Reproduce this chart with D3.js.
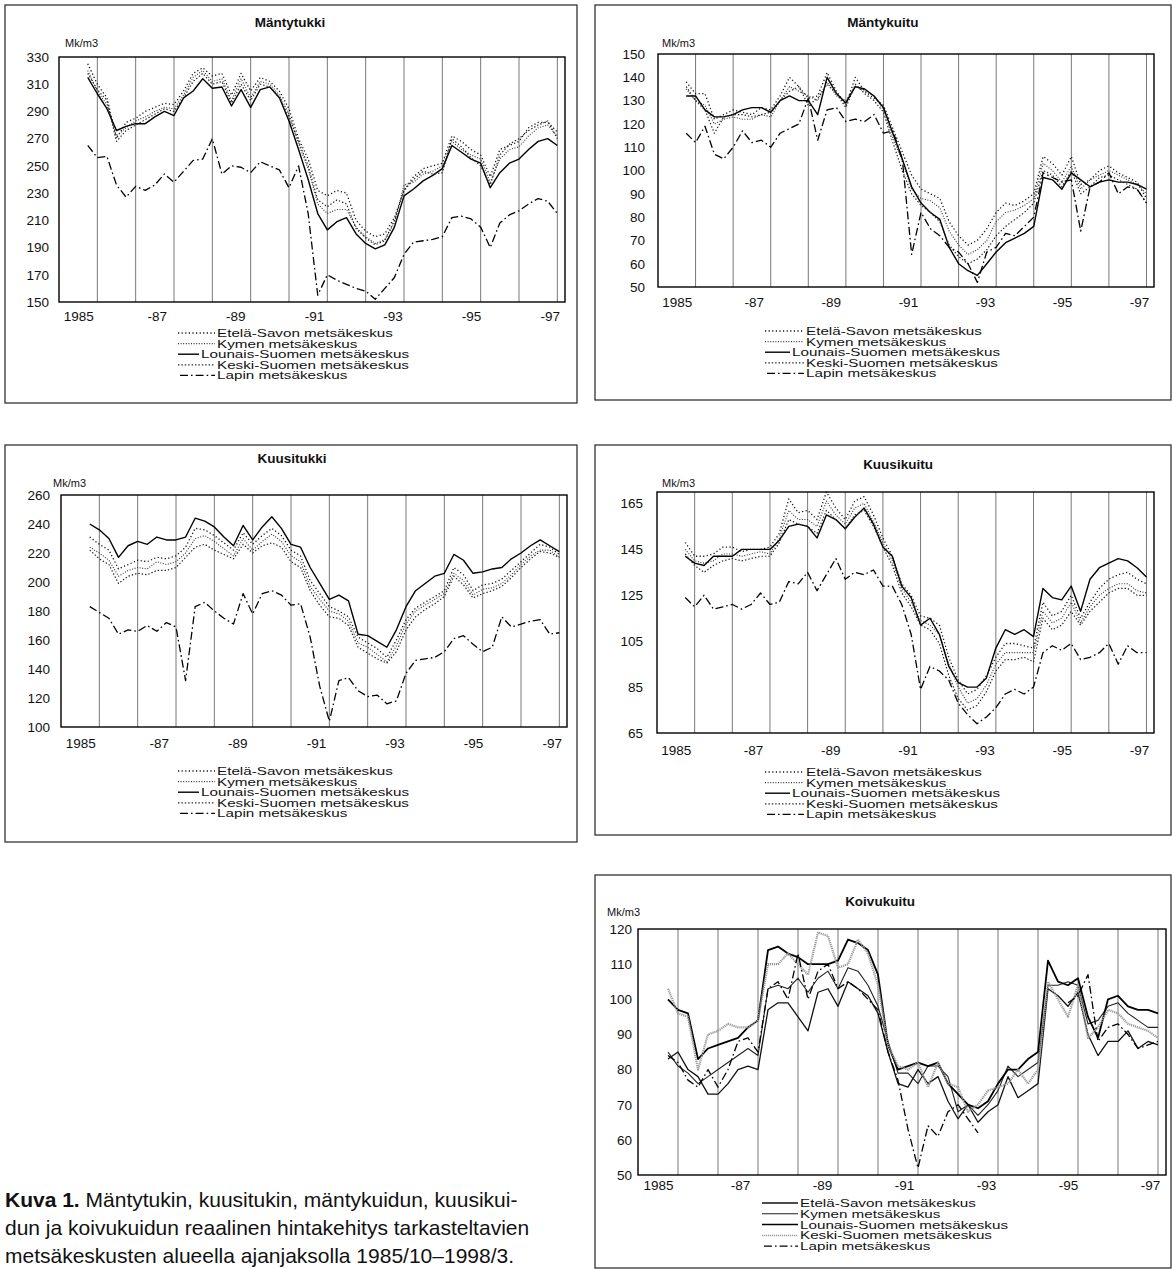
<!DOCTYPE html>
<html><head><meta charset="utf-8">
<script src="https://cdn.jsdelivr.net/npm/d3@7"></script>
<style>
body{margin:0;background:#fff}
svg{display:block}
text{font-family:"Liberation Sans",Arial,sans-serif;fill:#111}
</style>
</head><body>
<svg id="c" width="1172" height="1269"></svg>
<script>
// ---- time axis (quarterly readings, 1985/10 .. 1998/1) ----
const quarters = d3.range(50).map(i => 1985.75 + i * 0.25);
const regions = ["Etelä-Savon metsäkeskus","Kymen metsäkeskus","Lounais-Suomen metsäkeskus","Keski-Suomen metsäkeskus","Lapin metsäkeskus"];
const xTickYears = [1985,1987,1989,1991,1993,1995,1997];
const xTickLabels = ["1985","-87","-89","-91","-93","-95","-97"];
const gridYears = d3.range(1986, 1999);

// ---- Mäntytukki ----
const mtEtela  = [325,310,300,270,282,285,290,293,296,295,305,318,322,316,318,302,318,305,315,312,305,292,270,255,232,228,232,230,210,202,198,200,212,232,242,248,250,252,272,268,262,258,242,262,265,268,278,282,282,275];
const mtKymen  = [320,305,295,272,278,283,286,290,293,292,302,315,320,312,314,298,314,300,312,310,302,288,266,248,222,215,218,218,205,198,193,196,208,236,238,244,246,250,268,262,258,255,238,255,262,264,272,278,280,272];
const mtLounais= [315,303,292,276,279,281,281,286,290,287,300,305,314,307,308,294,306,293,306,308,300,283,262,240,215,203,209,212,200,193,189,192,205,228,233,239,243,248,265,260,255,252,234,245,252,255,262,268,270,265];
const mtKeski  = [318,306,298,268,276,280,284,288,292,290,300,312,318,310,312,296,310,298,310,308,300,286,268,250,225,220,225,222,204,197,192,195,210,232,240,246,244,245,270,264,256,250,236,258,266,270,276,280,283,270];
const mtLapin  = [265,256,257,236,227,235,232,236,244,238,246,254,255,270,244,250,249,245,253,250,247,234,250,215,155,170,166,163,160,158,152,160,168,185,194,195,196,198,212,213,211,205,190,208,214,217,222,226,224,215];

// ---- Mäntykuitu ----
const mkEtela  = [138,133,133,122,124,126,125,124,127,126,132,140,136,131,132,142,134,128,140,134,131,128,118,108,98,92,90,88,78,72,68,70,75,82,86,85,87,90,106,103,98,106,94,96,100,102,99,97,95,88];
const mkKymen  = [135,130,128,120,122,123,122,122,124,123,130,136,134,132,130,138,132,130,136,134,132,126,114,104,92,88,87,84,74,68,64,66,70,78,82,83,85,88,103,100,95,102,92,96,98,100,98,96,94,90];
const mkLounais= [132,132,126,123,123,124,126,127,127,125,130,132,130,130,124,140,133,129,136,135,132,127,116,105,93,86,82,79,67,60,57,55,60,65,69,71,73,76,97,96,92,99,96,93,95,96,95,95,94,92];
const mkKeski  = [136,130,126,116,123,124,124,123,124,125,130,134,136,128,131,137,133,127,137,133,130,125,112,100,90,85,82,78,68,63,60,62,66,72,76,79,82,86,100,98,93,100,90,93,97,98,96,94,92,86];
const mkLapin  = [116,112,119,107,105,110,117,112,113,110,116,118,120,131,113,126,127,121,122,121,124,116,117,105,64,82,75,72,67,65,60,52,65,67,73,72,76,80,99,97,95,96,74,93,95,99,90,93,92,86];

// ---- Kuusitukki ----
const ktEtela  = [231,226,222,209,212,215,214,217,216,218,224,237,236,232,227,222,234,226,232,237,232,222,218,201,192,183,180,176,162,158,154,148,160,174,182,186,190,194,210,205,194,198,199,202,208,214,220,226,224,219];
const ktKymen  = [224,220,215,204,208,210,209,214,212,214,220,230,232,228,223,218,230,222,228,233,228,218,214,197,188,180,178,173,158,155,150,145,156,171,180,184,188,192,206,201,191,195,196,199,205,212,218,222,222,217];
const ktLounais= [240,236,230,217,225,228,226,231,229,229,231,244,242,238,231,225,239,229,238,245,237,226,224,210,199,188,191,187,164,163,159,155,167,183,194,199,204,206,219,215,206,207,209,210,216,220,225,229,225,221];
const ktKeski  = [222,216,212,199,204,206,205,208,208,210,217,224,226,222,219,216,226,220,225,227,224,214,210,194,184,176,175,170,155,151,147,144,152,167,176,181,185,190,204,198,189,192,194,197,203,210,216,221,220,217];
const ktLapin  = [183,179,175,164,167,166,170,166,172,169,132,183,186,180,175,171,192,178,192,194,191,184,185,162,128,104,132,134,125,121,122,116,118,137,146,147,148,152,161,163,157,152,155,176,169,171,173,174,164,165];

// ---- Kuusikuitu ----
const kkEtela  = [148,142,142,143,146,146,144,145,145,146,152,167,161,162,158,170,163,158,166,168,160,150,142,130,125,116,115,112,98,88,82,84,90,98,104,104,103,102,122,116,118,125,115,122,128,132,134,135,132,130];
const kkKymen  = [145,140,139,140,143,143,142,143,144,143,150,162,158,158,155,166,160,156,163,165,157,148,140,128,122,114,112,108,95,85,78,80,86,95,100,100,100,100,118,113,115,122,113,120,125,128,130,130,127,126];
const kkLounais= [142,139,138,142,142,142,145,145,145,145,149,155,156,155,150,160,158,154,159,163,156,146,142,129,124,112,115,108,94,87,85,85,89,102,110,108,110,107,128,124,123,129,118,132,137,139,141,140,137,133];
const kkKeski  = [143,138,135,138,140,141,140,141,142,142,148,158,156,155,152,162,158,154,160,162,155,146,138,126,120,112,110,104,90,80,75,77,83,92,97,97,98,96,115,110,112,118,112,118,122,126,128,128,125,125];
const kkLapin  = [124,120,125,119,120,121,119,121,126,121,122,131,130,135,127,134,141,132,135,134,136,129,129,121,108,84,94,92,88,78,73,69,72,76,82,84,82,85,100,103,101,104,97,98,100,104,95,103,100,100];

// ---- Koivukuitu ----
const kvEtela  = [83,85,80,78,73,73,76,80,81,80,97,99,99,95,91,102,103,98,105,103,101,96,85,76,75,80,76,78,71,66,70,65,68,70,78,72,74,76,103,101,98,102,90,84,88,88,91,86,88,87];
const kvKymen  = [85,81,79,76,78,80,82,84,86,84,103,104,103,106,102,106,108,103,109,108,104,98,88,79,79,76,81,81,78,68,70,67,70,74,81,78,80,82,104,104,105,104,93,94,98,99,96,94,92,92];
const kvLounais= [100,97,96,83,86,87,88,89,92,94,114,115,113,112,110,110,110,111,117,116,114,107,87,80,81,82,81,82,76,73,70,69,71,76,80,80,83,85,111,105,104,106,95,89,100,101,98,97,97,96];
const kvKeski  = [103,96,95,80,90,91,93,92,92,94,110,110,113,110,107,119,118,109,110,117,113,104,87,81,80,82,75,82,76,75,68,70,74,75,76,80,76,80,105,100,95,104,89,92,97,96,93,92,91,89];
const kvLapin  = [84,82,77,75,80,75,80,88,89,85,103,105,100,113,100,108,110,103,105,103,100,97,85,77,63,52,64,61,68,70,66,62,null,null,null,null,null,null,null,null,99,101,107,88,92,93,90,86,87,88];

const captionLines = [
  ["Kuva 1.", " Mäntytukin, kuusitukin, mäntykuidun, kuusikui-"],
  ["", "dun ja koivukuidun reaalinen hintakehitys tarkasteltavien"],
  ["", "metsäkeskusten alueella ajanjaksolla 1985/10–1998/3."]
];

// ---- styles ----
const stdStyles = [
  {stroke:"#111", width:1.3, dash:"1.2,2.4"},
  {stroke:"#333", width:1.1, dash:"1,1.6"},
  {stroke:"#000", width:1.4, dash:null},
  {stroke:"#222", width:1.2, dash:"1.4,2"},
  {stroke:"#000", width:1.3, dash:"8,3,1.6,3"}
];
const birchStyles = [
  {stroke:"#111", width:1.3, dash:null},
  {stroke:"#222", width:1.1, dash:null},
  {stroke:"#000", width:1.8, dash:null},
  {stroke:"#999", width:2.2, dash:"1.2,0.8"},
  {stroke:"#000", width:1.3, dash:"8,3,1.6,3"}
];

const panels = [
  {title:"Mäntytukki", frame:[5,5,577,403], plot:[59,57,565,302], y:[150,330], yTicks:d3.range(150,331,20),
   series:[mtEtela,mtKymen,mtLounais,mtKeski,mtLapin], styles:stdStyles, titleXY:[290,27], unitXY:[65,47],
   yPad:10, xPad:9, legend:{x0:178, tx:217, txSolid:201, y0:333, dy:10.6}},
  {title:"Mäntykuitu", frame:[595,5,1171,400], plot:[658,54,1154,287], y:[50,150], yTicks:d3.range(50,151,10),
   series:[mkEtela,mkKymen,mkLounais,mkKeski,mkLapin], styles:stdStyles, titleXY:[883,27], unitXY:[662,47],
   yPad:13, xPad:10, legend:{x0:765, tx:806, txSolid:792, y0:331, dy:10.6}},
  {title:"Kuusitukki", frame:[5,445,577,842], plot:[61,495,567,727], y:[100,260], yTicks:d3.range(100,261,20),
   series:[ktEtela,ktKymen,ktLounais,ktKeski,ktLapin], styles:stdStyles, titleXY:[292,463], unitXY:[53,487],
   yPad:11, xPad:11, legend:{x0:178, tx:217, txSolid:201, y0:771, dy:10.6}},
  {title:"Kuusikuitu", frame:[595,445,1171,835], plot:[657,492,1154,733], y:[65,170], yTicks:d3.range(65,166,20),
   series:[kkEtela,kkKymen,kkLounais,kkKeski,kkLapin], styles:stdStyles, titleXY:[898,469], unitXY:[662,487],
   yPad:14, xPad:12, legend:{x0:765, tx:806, txSolid:792, y0:772, dy:10.6}},
  {title:"Koivukuitu", frame:[595,875,1171,1268], plot:[638,929,1166,1175], y:[50,120], yTicks:d3.range(50,121,10),
   series:[kvEtela,kvKymen,kvLounais,kvKeski,kvLapin], styles:birchStyles, titleXY:[880,906], unitXY:[607,916],
   yPad:6, xPad:5, legend:{x0:762, tx:800, txSolid:800, y0:1203, dy:10.8}}
];

const svg = d3.select("#c");
svg.append("rect").attr("width",1172).attr("height",1269).attr("fill","#fff");

function stretch(sel, k){
  sel.each(function(){
    const w = this.getComputedTextLength();
    d3.select(this).attr("textLength", w*k).attr("lengthAdjust","spacingAndGlyphs");
  });
}

panels.forEach(p => {
  const g = svg.append("g");
  const [fx0,fy0,fx1,fy1] = p.frame;
  const [px0,py0,px1,py1] = p.plot;
  g.append("rect").attr("x",fx0).attr("y",fy0).attr("width",fx1-fx0).attr("height",fy1-fy0)
    .attr("fill","none").attr("stroke","#333").attr("stroke-width",1.3);

  const x = d3.scaleLinear().domain([1985, 1998.2]).range([px0, px1]);
  const y = d3.scaleLinear().domain(p.y).range([py1, py0]);

  g.append("g").selectAll("line").data(gridYears).join("line")
    .attr("x1",d=>x(d)).attr("x2",d=>x(d)).attr("y1",py0).attr("y2",py1)
    .attr("stroke","#555").attr("stroke-width",0.8);

  p.series.forEach((vals,i) => {
    const st = p.styles[i];
    const line = d3.line().defined(d => d[1] !== null).x(d => x(d[0])).y(d => y(d[1]));
    g.append("path").datum(quarters.map((q,k)=>[q, vals[k]]))
      .attr("d", line).attr("fill","none").attr("stroke",st.stroke)
      .attr("stroke-width",st.width).attr("stroke-dasharray",st.dash)
      .attr("stroke-linejoin","round");
  });

  g.append("rect").attr("x",px0).attr("y",py0).attr("width",px1-px0).attr("height",py1-py0)
    .attr("fill","none").attr("stroke","#000").attr("stroke-width",1.4);

  const ya = g.append("g").attr("transform",`translate(${px0},0)`)
    .call(d3.axisLeft(y).tickValues(p.yTicks).tickFormat(d3.format("d")).tickSize(0).tickPadding(p.yPad));
  ya.select(".domain").remove();
  ya.selectAll("text").attr("font-size",13.5).attr("font-family","Liberation Sans, Arial, sans-serif").attr("fill","#111");

  const labPos = xTickYears.map(yr => yr + 0.5 + (yr-1985)*0.025);
  const xa = g.append("g").attr("transform",`translate(0,${py1})`)
    .call(d3.axisBottom(x).tickValues(labPos).tickFormat((d,i)=>xTickLabels[i]).tickSize(0).tickPadding(p.xPad));
  xa.select(".domain").remove();
  xa.selectAll("text").attr("font-size",13.5).attr("font-family","Liberation Sans, Arial, sans-serif").attr("fill","#111");

  g.append("text").attr("x",p.titleXY[0]).attr("y",p.titleXY[1]).attr("text-anchor","middle")
    .attr("font-size",13.5).attr("font-weight","bold").text(p.title);
  g.append("text").attr("x",p.unitXY[0]).attr("y",p.unitXY[1]).attr("font-size",11).text("Mk/m3");

  const L = p.legend;
  regions.forEach((name,i) => {
    const st = p.styles[i];
    const yy = L.y0 + i*L.dy;
    const tx = st.dash === null ? L.txSolid : L.tx;
    g.append("line").attr("x1", L.x0 + (i===4?2:0)).attr("x2", tx-2).attr("y1",yy).attr("y2",yy)
      .attr("stroke",st.stroke).attr("stroke-width",Math.min(st.width,1.5)).attr("stroke-dasharray",st.dash);
    const t = g.append("text").attr("x",tx).attr("y",yy).attr("dy","0.36em").attr("font-size",11.2).text(name);
    stretch(t, 1.36);
  });
});

const cap = svg.append("g");
captionLines.forEach((ln,i) => {
  const t = cap.append("text").attr("x",5).attr("y",1207 + i*28)
    .attr("font-family","Lato, 'Open Sans', sans-serif").attr("font-size",21).attr("fill","#222");
  if (ln[0]) t.append("tspan").attr("font-weight","bold").text(ln[0]);
  t.append("tspan").text(ln[1]);
});
</script>
</body></html>
